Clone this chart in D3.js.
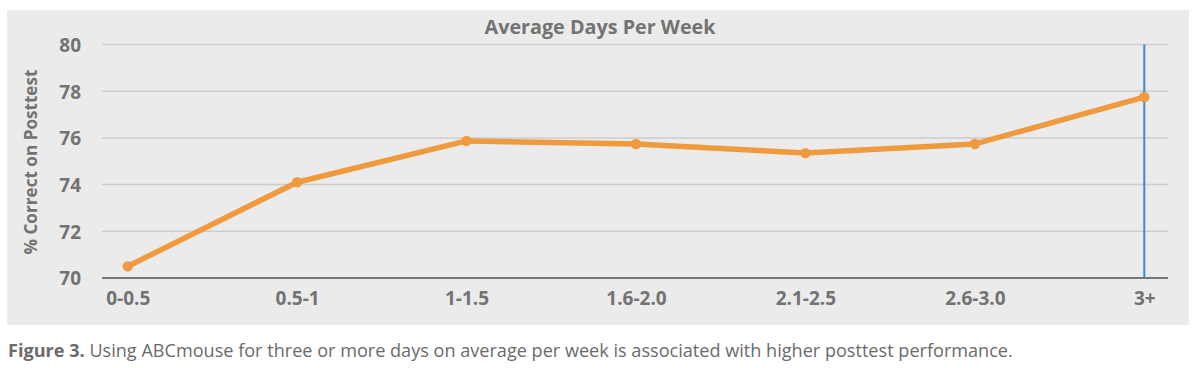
<!DOCTYPE html>
<html>
<head>
<meta charset="utf-8">
<script src="https://cdn.jsdelivr.net/npm/d3@7"></script>
<style>
  html, body { margin: 0; padding: 0; background: #fff; }
  svg { display: block; font-family: "Open Sans", sans-serif; }
</style>
</head>
<body>
<svg id="chart" width="1200" height="368"></svg>
<script>
const categories = ["0-0.5", "0.5-1", "1-1.5", "1.6-2.0", "2.1-2.5", "2.6-3.0", "3+"];
const values = [70.5, 74.1, 75.87, 75.74, 75.35, 75.74, 77.75];
const yTicks = [70, 72, 74, 76, 78, 80];
const highlightCategory = "3+";
const title = "Average Days Per Week";
const yLabel = "% Correct on Posttest";
const captionBold = "Figure 3.";
const captionText = " Using ABCmouse for three or more days on average per week is associated with higher posttest performance.";

const svg = d3.select("#chart");
const textColor = "#737373";
const fontFam = "'Open Sans', sans-serif";

function fit(sel, target) {
  const n = sel.node();
  const fs = parseFloat(sel.attr("font-size"));
  const w = n.getComputedTextLength();
  if (w > 0) sel.attr("font-size", (fs * target / w).toFixed(2));
}

svg.append("rect").attr("x", 7).attr("y", 10).attr("width", 1182).attr("height", 315).attr("fill", "#ebebeb");

const x = d3.scalePoint().domain(categories).range([104, 1168]).padding(0.14);
const y = d3.scaleLinear().domain([70, 80]).range([278, 44.5]);
const xLeft = 102, xRight = 1168;

svg.append("g").selectAll("line").data(yTicks.filter(t => t !== 70)).join("line")
  .attr("x1", xLeft).attr("x2", xRight)
  .attr("y1", d => y(d)).attr("y2", d => y(d))
  .attr("stroke", "#cdcdcd").attr("stroke-width", 1.5);

const yAxis = d3.axisLeft(y).tickValues(yTicks).tickSize(0).tickPadding(0).tickFormat(d3.format("d"));
const yg = svg.append("g").attr("transform", "translate(81,0)").call(yAxis);
yg.select(".domain").remove();
yg.selectAll("text").attr("fill", textColor).attr("font-size", 19).attr("font-weight", 700)
  .attr("font-family", fontFam).attr("dy", "0.36em");

const xAxis = d3.axisBottom(x).tickSize(0).tickPadding(0);
const xg = svg.append("g").attr("transform", "translate(0,278)").call(xAxis);
xg.select(".domain").remove();
xg.selectAll("text").attr("fill", textColor).attr("font-size", 19).attr("font-weight", 700)
  .attr("font-family", fontFam).attr("dy", 0).attr("y", 27);
svg.append("line").attr("x1", xLeft).attr("x2", xRight).attr("y1", y(70)).attr("y2", y(70))
  .attr("stroke", "#777").attr("stroke-width", 2);

svg.append("line")
  .attr("x1", x(highlightCategory)).attr("x2", x(highlightCategory))
  .attr("y1", y(80)).attr("y2", y(70))
  .attr("stroke", "#3d87d2").attr("stroke-width", 2);

const data = categories.map((c, i) => ({ c, v: values[i] }));
const line = d3.line().x(d => x(d.c)).y(d => y(d.v));
svg.append("path").datum(data).attr("d", line)
  .attr("fill", "none").attr("stroke", "#f09a3e").attr("stroke-width", 5.5)
  .attr("stroke-linejoin", "round");
svg.append("g").selectAll("circle").data(data).join("circle")
  .attr("cx", d => x(d.c)).attr("cy", d => y(d.v)).attr("r", 5.2).attr("fill", "#f09a3e");

const t = svg.append("text").attr("x", 600).attr("y", 34).attr("text-anchor", "middle")
  .attr("fill", textColor).attr("font-size", 18).attr("font-weight", 700).text(title);
fit(t, 231);

const yl = svg.append("text").attr("transform", "translate(37,162) rotate(-90)").attr("text-anchor", "middle")
  .attr("fill", textColor).attr("font-size", 17).attr("font-weight", 700).text(yLabel);
fit(yl, 185);

const cap = svg.append("text").attr("x", 8).attr("y", 357).attr("fill", "#6b6b6b").attr("font-size", 16);
cap.append("tspan").attr("font-weight", 700).text(captionBold);
cap.append("tspan").attr("font-weight", 400).text(captionText);
fit(cap, 1005);
</script>
</body>
</html>
